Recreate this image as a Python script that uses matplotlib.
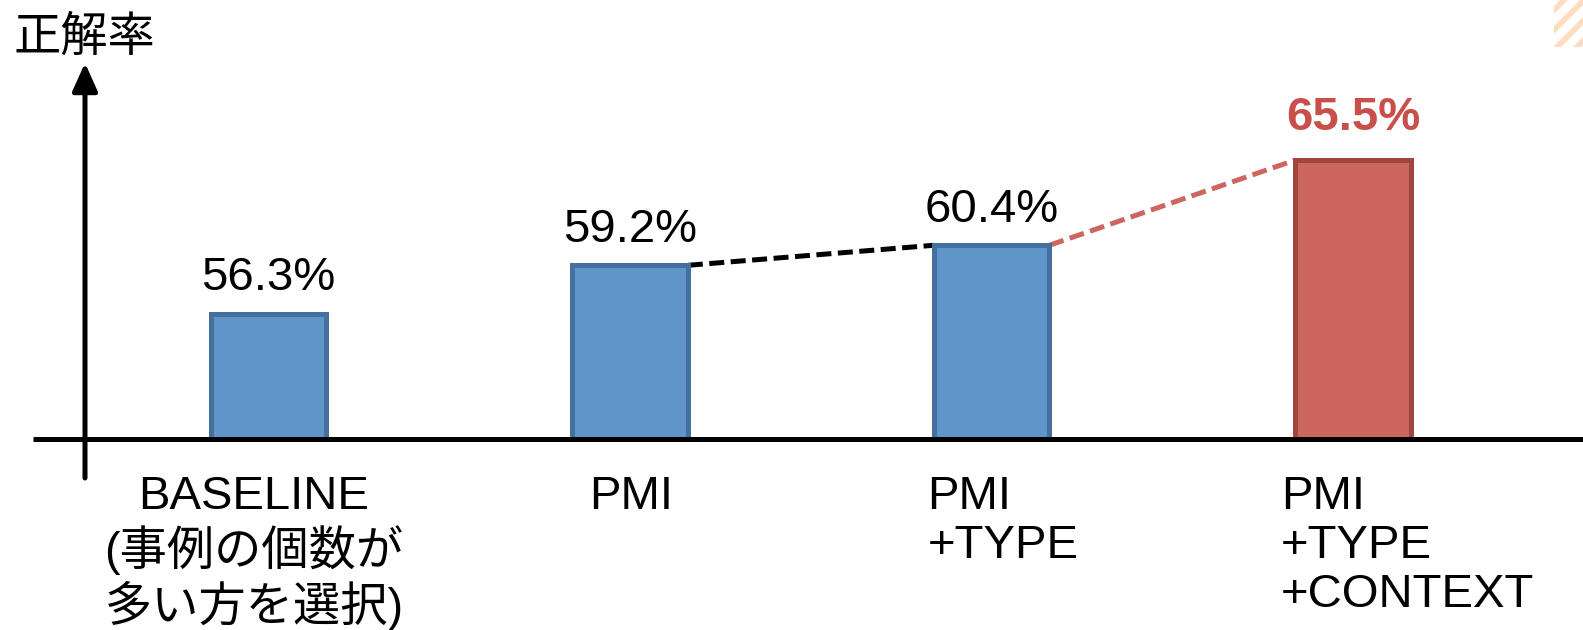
import matplotlib
matplotlib.use("Agg")
import matplotlib.pyplot as plt
from matplotlib.patches import Polygon, Rectangle, FancyArrowPatch
from matplotlib.lines import Line2D

# ---- data ----
categories = ["BASELINE\n(事例の個数が\n多い方を選択)", "PMI", "PMI\n+TYPE", "PMI\n+TYPE\n+CONTEXT"]
accuracy = [56.3, 59.2, 60.4, 65.5]
value_labels = ["56.3%", "59.2%", "60.4%", "65.5%"]
y_title = "正解率"

plt.rcParams["font.family"] = ["Liberation Sans", "Noto Sans CJK JP", "DejaVu Sans"]

W, H = 1583, 630
fig = plt.figure(figsize=(W / 100, H / 100), dpi=100)
ax = fig.add_axes([0, 0, 1, 1])
ax.set_axis_off()

# scale: bars start at a floor value so differences are visible
floor = 48.8
px_per_unit_y = 16.7
base_px = 439  # baseline, pixels from top
ax.set_ylim(floor - (H - base_px) / px_per_unit_y, floor + base_px / px_per_unit_y)
spacing = 361.5
first_center = 268.5
ax.set_xlim(-first_center / spacing, (W - first_center) / spacing)

blue_fill, blue_edge = "#5F95C8", "#44709E"
red_fill, red_edge = "#CD665F", "#A0463F"
red_text = "#C9504A"

width = 0.32
xs = list(range(len(accuracy)))
fills = [blue_fill, blue_fill, blue_fill, red_fill]
edges = [blue_edge, blue_edge, blue_edge, red_edge]
LW = 3.6


def fx(px):
    return px / W


def fy(py):
    return 1 - py / H


# horizontal axis line
fig.add_artist(Line2D([fx(33), fx(W)], [fy(base_px), fy(base_px)],
                      color="black", lw=LW, solid_capstyle="butt", zorder=1))
# vertical axis arrow
fig.add_artist(FancyArrowPatch((fx(85), fy(478)), (fx(85), fy(63)),
                               transform=fig.transFigure, shrinkA=0, shrinkB=0,
                               arrowstyle="-|>,head_length=1.0,head_width=0.45",
                               mutation_scale=17, color="black", lw=LW, zorder=1))

bars = ax.bar(xs, [v - floor for v in accuracy], bottom=floor, width=width,
              color=fills, edgecolor=edges, linewidth=LW, zorder=3)

# value labels
for i, (v, lab) in enumerate(zip(accuracy, value_labels)):
    is_last = i == len(accuracy) - 1
    ax.annotate(lab, (i, v), xytext=(0, 17 if not is_last else 22), textcoords="offset points",
                ha="center", va="baseline", fontsize=34,
                color=red_text if is_last else "black",
                fontweight="bold" if is_last else "normal", zorder=5)

# dashed connectors between bar tops
dash = (0, (3.0, 1.3))
ax.plot([1 + width / 2, 2 - width / 2], [accuracy[1], accuracy[2]],
        color="black", lw=LW, linestyle=dash, zorder=2)
ax.plot([2 + width / 2, 3 - width / 2], [accuracy[2], accuracy[3]],
        color=red_fill, lw=LW, linestyle=dash, zorder=2)

# category labels below the axis
label_dx = [-0.04, -0.113, -0.177, -0.2]
label_ha = ["center", "left", "left", "left"]
for i, (cat, dx, ha) in enumerate(zip(categories, label_dx, label_ha)):
    ax.annotate(cat, (i + dx, floor), xytext=(0, -26), textcoords="offset points",
                ha=ha, va="top", multialignment=ha, fontsize=34, linespacing=1.15)

# y-axis title
fig.text(fx(14), fy(38), y_title, fontsize=34, va="center", ha="left",
         family=["Noto Sans CJK JP", "DejaVu Sans"])

# decorative stripes in the top-right corner
stripe_color = "#FDDCC0"
clip = Rectangle((fx(1554), fy(47)), fx(W) - fx(1554), fy(0) - fy(47),
                 transform=fig.transFigure, facecolor="none", edgecolor="none")
fig.add_artist(clip)
for k in range(-4, 6):
    x0 = 1540 + k * 20
    pts = [(x0, 60), (x0 + 8, 60), (x0 + 8 + 60, 0), (x0 + 60, 0)]
    poly = Polygon([(fx(a), fy(b)) for a, b in pts], closed=True,
                   transform=fig.transFigure, facecolor=stripe_color, edgecolor="none")
    fig.add_artist(poly)
    poly.set_clip_path(clip)

fig.savefig("out.png", dpi=100, facecolor="white")
